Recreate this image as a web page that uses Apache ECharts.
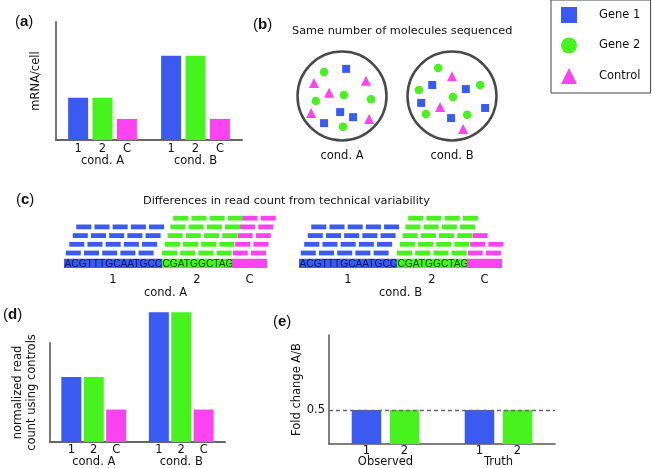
<!DOCTYPE html>
<html>
<head>
<meta charset="utf-8">
<script src="https://cdn.jsdelivr.net/npm/echarts@6/dist/echarts.min.js"></script>
<style>
  html, body { margin: 0; padding: 0; background: #fff; }
  #chart { width: 652px; height: 468px; }
</style>
</head>
<body>
<div id="chart"></div>
<script>
// panel (a): true mRNA per cell
const conditions = ["cond. A", "cond. B"];
const mrnaGene1 = [2, 4];
const mrnaGene2 = [2, 4];
const mrnaControl = [1, 1];

// panel (b): molecules in each sequenced pool (unit-disc positions)
const poolAGene1 = [[0.09, 0.59], [-0.04, -0.35], [0.24, -0.46], [-0.39, -0.59]];
const poolAGene2 = [[-0.39, 0.52], [0.04, 0.02], [-0.57, -0.11], [0.63, -0.07], [0.02, -0.67]];
const poolAControl = [[-0.61, 0.28], [0.52, 0.33], [-0.28, 0.07], [-0.67, -0.37], [0.59, -0.5]];
const poolBGene1 = [[-0.43, 0.24], [0.3, 0.15], [-0.67, -0.15], [0.72, -0.26], [-0.02, -0.48]];
const poolBGene2 = [[-0.3, 0.61], [0.61, 0.24], [-0.72, 0.13], [0.02, -0.02], [-0.57, -0.39], [0.33, -0.41]];
const poolBControl = [[0, 0.43], [-0.26, -0.24], [0.24, -0.72]];

// panel (c): reference and read counts
const geneLabels = ["1", "2", "C"];
const sequences = ["ACGTTTGCAATGCC", "CGATGGCTAG", ""];
const segmentLengths = [14, 10, 5];
const readCountA = [20, 20, 10];
const readCountB = [20, 20, 5];

// panel (d): normalized read counts
const normGene1 = [2, 4];
const normGene2 = [2, 4];
const normControl = [1, 1];

// panel (e): fold change A/B
const foldGroups = ["Observed", "Truth"];
const foldGene1 = [0.5, 0.5];
const foldGene2 = [0.5, 0.5];

const BLUE = "#3a5af0";
const GREEN = "#47f21f";
const PINK = "#fb44ef";
const geneColors = [BLUE, GREEN, PINK];
const FONT = "DejaVu Sans";
const TXT = "#111";

// build reference segments and read pileups
const segments = [];
let pos = 0;
segmentLengths.forEach((len, g) => {
  segments.push([pos, pos + len, g, sequences[g]]);
  pos += len;
});
const segCenters = segments.map((s) => (s[0] + s[1]) / 2);

const READ_LEN = 2.15;
const READ_STEP = 2.6;
const ROW_SHIFT = [0.5, 0.4, 0.35];
const readsPerRow = [5, 4, 2];
const readPad = [0.25, 0, 0.1];

function pileup(counts) {
  const out = [];
  counts.forEach((n, g) => {
    for (let i = 0; i < n; i++) {
      const row = Math.floor(i / readsPerRow[g]);
      const slot = i % readsPerRow[g];
      const s = segments[g][0] + readPad[g] + row * ROW_SHIFT[g] + slot * READ_STEP;
      out.push([s, s + READ_LEN, row + 1, g]);
    }
  });
  return out;
}

function renderRead(params, api) {
  const p0 = api.coord([api.value(0), api.value(2)]);
  const p1 = api.coord([api.value(1), api.value(2)]);
  return {
    type: "rect",
    shape: { x: p0[0], y: p0[1] - 2.4, width: p1[0] - p0[0], height: 4.8 },
    style: { fill: geneColors[api.value(3)] },
  };
}

function renderRef(params, api) {
  const p0 = api.coord([api.value(0), -0.2]);
  const p1 = api.coord([api.value(1), -0.2]);
  const g = api.value(2);
  const seq = segments[params.dataIndex][3];
  return {
    type: "group",
    children: [
      {
        type: "rect",
        shape: { x: p0[0], y: p0[1] - 4.6, width: p1[0] - p0[0], height: 9.2 },
        style: { fill: geneColors[g] },
      },
      {
        type: "text",
        style: {
          text: seq,
          x: p0[0] + 0.5,
          y: p0[1] + 0.5,
          verticalAlign: "middle",
          font: '10.2px "Liberation Sans"',
          fill: g === 0 ? "#0f1760" : "#134a12",
        },
      },
    ],
  };
}

const panelLabel = (letter, left, top) => ({
  text: "(" + "{b|" + letter + "})",
  left: left,
  top: top,
  padding: 0,
  textStyle: {
    fontFamily: "Liberation Sans",
    fontSize: 15,
    fontWeight: "normal",
    color: TXT,
    rich: { b: { fontFamily: "Liberation Sans", fontSize: 15, fontWeight: "bold", color: TXT } },
  },
});

const chart = echarts.init(document.getElementById("chart"));

const catAxis = (gridIndex, data, margin) => ({
  type: "category",
  gridIndex,
  data,
  axisTick: { show: false },
  axisLine: { lineStyle: { color: "#666", width: 2 } },
  axisLabel: { color: TXT, fontFamily: FONT, fontSize: 11.5, margin },
});

const hiddenValueAxis = (gridIndex, extra) =>
  Object.assign(
    {
      type: "value",
      gridIndex,
      axisLine: { show: false },
      axisTick: { show: false },
      axisLabel: { show: false },
      splitLine: { show: false },
    },
    extra
  );

const barLabel = (text, distance) => ({
  show: true,
  position: "bottom",
  distance,
  formatter: text,
  color: TXT,
  fontFamily: FONT,
  fontSize: 11.5,
});

const barSeries = (name, xi, yi, data, color, text, width, gap, distance) => ({
  name,
  type: "bar",
  xAxisIndex: xi,
  yAxisIndex: yi,
  data,
  barWidth: width,
  barGap: gap,
  clip: false,
  itemStyle: { color },
  label: barLabel(text, distance),
});

const moleculeSeries = (name, idx, data, symbol, size, color) => ({
  name,
  type: "scatter",
  xAxisIndex: idx,
  yAxisIndex: idx,
  data,
  symbol,
  symbolSize: size,
  itemStyle: { color, opacity: 1 },
  z: 3,
});

const jar = (idx) => ({
  name: "jar",
  type: "scatter",
  xAxisIndex: idx,
  yAxisIndex: idx,
  data: [[0, 0]],
  symbol: "circle",
  symbolSize: 89,
  itemStyle: { color: "rgba(0,0,0,0)", borderColor: "#1c1c1c", borderWidth: 2.5 },
  z: 2,
});

const condName = (text, gap) => ({
  name: text,
  nameLocation: "middle",
  nameGap: gap,
  nameTextStyle: { fontFamily: FONT, fontSize: 11.5, color: TXT },
});

const readAxisLabel = {
  show: true,
  customValues: segCenters,
  margin: 4,
  color: TXT,
  fontFamily: FONT,
  fontSize: 11.5,
  formatter: (v) => geneLabels[segCenters.indexOf(v)],
};

chart.setOption({
  animation: false,
  backgroundColor: "#fff",
  title: [
    panelLabel("a", 15, 14),
    panelLabel("b", 253, 17),
    panelLabel("c", 16, 192),
    panelLabel("d", 3, 307),
    panelLabel("e", 273, 314),
    {
      text: "Same number of molecules sequenced",
      left: 292,
      top: 26,
      padding: 0,
      textStyle: { fontFamily: FONT, fontSize: 11.3, fontWeight: "normal", color: TXT },
    },
    {
      text: "Differences in read count from technical variability",
      left: 143,
      top: 196,
      padding: 0,
      textStyle: { fontFamily: FONT, fontSize: 11.3, fontWeight: "normal", color: TXT },
    },
  ],
  legend: {
    orient: "vertical",
    left: 551,
    top: 0,
    padding: [7, 10, 9, 10],
    itemWidth: 16,
    itemHeight: 16,
    itemGap: 14.5,
    selectedMode: false,
    borderColor: "#444",
    borderWidth: 1,
    textStyle: { fontFamily: FONT, fontSize: 11.5, color: TXT, padding: [0, 0, 0, 17] },
    data: [
      { name: "Gene 1", icon: "rect" },
      { name: "Gene 2", icon: "circle" },
      { name: "Control", icon: "triangle" },
    ],
  },
  grid: [
    { left: 56, top: 22, width: 186, height: 118 },      // a
    { left: 296, top: 50, width: 92, height: 92 },       // b, pool A
    { left: 406, top: 50, width: 92, height: 92 },       // b, pool B
    { left: 64, top: 209.5, width: 203, height: 60.9 },  // c, cond A
    { left: 299, top: 209.5, width: 203, height: 60.9 }, // c, cond B
    { left: 50, top: 343, width: 175, height: 102 },     // d
    { left: 329, top: 335, width: 226, height: 110 },    // e
  ],
  xAxis: [
    catAxis(0, conditions, 15),
    hiddenValueAxis(1, Object.assign({ min: -1, max: 1 }, condName("cond. A", 8))),
    hiddenValueAxis(2, Object.assign({ min: -1, max: 1 }, condName("cond. B", 8))),
    hiddenValueAxis(3, Object.assign({ min: 0, max: 29, axisLabel: readAxisLabel }, condName("cond. A", 17))),
    hiddenValueAxis(4, Object.assign({ min: 0, max: 29, axisLabel: readAxisLabel }, condName("cond. B", 17))),
    catAxis(5, conditions, 14),
    Object.assign(catAxis(6, foldGroups, 12), { axisLine: { lineStyle: { color: "#555", width: 1.5 } } }),
  ],
  yAxis: [
    {
      type: "value", gridIndex: 0, min: 0, max: 5.6,
      name: "mRNA/cell", nameLocation: "middle", nameGap: 14,
      nameTextStyle: { fontFamily: FONT, fontSize: 11.5, color: TXT },
      axisLine: { show: true, lineStyle: { color: "#777", width: 2 } },
      axisTick: { show: false }, axisLabel: { show: false }, splitLine: { show: false },
    },
    hiddenValueAxis(1, { min: -1, max: 1 }),
    hiddenValueAxis(2, { min: -1, max: 1 }),
    hiddenValueAxis(3, { min: -1, max: 6 }),
    hiddenValueAxis(4, { min: -1, max: 6 }),
    {
      type: "value", gridIndex: 5, min: 0, max: 3.05,
      name: "normalized read\ncount using controls", nameLocation: "middle", nameGap: 11,
      nameTextStyle: { fontFamily: FONT, fontSize: 11.5, color: TXT, lineHeight: 14 },
      axisLine: { show: true, lineStyle: { color: "#777", width: 2 } },
      axisTick: { show: false }, axisLabel: { show: false }, splitLine: { show: false },
    },
    {
      type: "value", gridIndex: 6, min: 0, max: 1.6, interval: 0.5,
      name: "Fold change A/B", nameLocation: "middle", nameGap: 26,
      nameTextStyle: { fontFamily: FONT, fontSize: 11.5, color: TXT },
      axisLine: { show: true, lineStyle: { color: "#555", width: 1.5 } },
      axisTick: { show: false },
      axisLabel: { margin: 4, color: TXT, fontFamily: FONT, fontSize: 11.5,
        formatter: (v) => (v === 0.5 ? "0.5" : "") },
      splitLine: { show: false },
    },
  ],
  series: [
    // (a)
    barSeries("Gene 1", 0, 0, mrnaGene1, BLUE, "1", 20, "22%", 3.5),
    barSeries("Gene 2", 0, 0, mrnaGene2, GREEN, "2", 20, "22%", 3.5),
    barSeries("Control", 0, 0, mrnaControl, PINK, "C", 20, "22%", 3.5),
    // (b)
    jar(1),
    jar(2),
    moleculeSeries("Gene 1", 1, poolAGene1, "rect", 8, BLUE),
    moleculeSeries("Gene 2", 1, poolAGene2, "circle", 8.5, GREEN),
    moleculeSeries("Control", 1, poolAControl, "triangle", 10, PINK),
    moleculeSeries("Gene 1", 2, poolBGene1, "rect", 8, BLUE),
    moleculeSeries("Gene 2", 2, poolBGene2, "circle", 8.5, GREEN),
    moleculeSeries("Control", 2, poolBControl, "triangle", 10, PINK),
    // (c)
    { name: "refA", type: "custom", xAxisIndex: 3, yAxisIndex: 3, data: segments, renderItem: renderRef },
    { name: "readsA", type: "custom", xAxisIndex: 3, yAxisIndex: 3, data: pileup(readCountA), renderItem: renderRead },
    { name: "refB", type: "custom", xAxisIndex: 4, yAxisIndex: 4, data: segments, renderItem: renderRef },
    { name: "readsB", type: "custom", xAxisIndex: 4, yAxisIndex: 4, data: pileup(readCountB), renderItem: renderRead },
    // (d)
    barSeries("Gene 1", 5, 5, normGene1, BLUE, "1", 20, "12%", 2.5),
    barSeries("Gene 2", 5, 5, normGene2, GREEN, "2", 20, "12%", 2.5),
    barSeries("Control", 5, 5, normControl, PINK, "C", 20, "12%", 2.5),
    // (e)
    Object.assign(barSeries("Gene 1", 6, 6, foldGene1, BLUE, "1", 29.5, "29%", 1), {
      markLine: {
        silent: true,
        symbol: "none",
        label: { show: false },
        lineStyle: { type: [4, 3], color: "#666", width: 1.3 },
        data: [{ yAxis: 0.5 }],
      },
    }),
    barSeries("Gene 2", 6, 6, foldGene2, GREEN, "2", 29.5, "29%", 1),
  ],
});
</script>
</body>
</html>
